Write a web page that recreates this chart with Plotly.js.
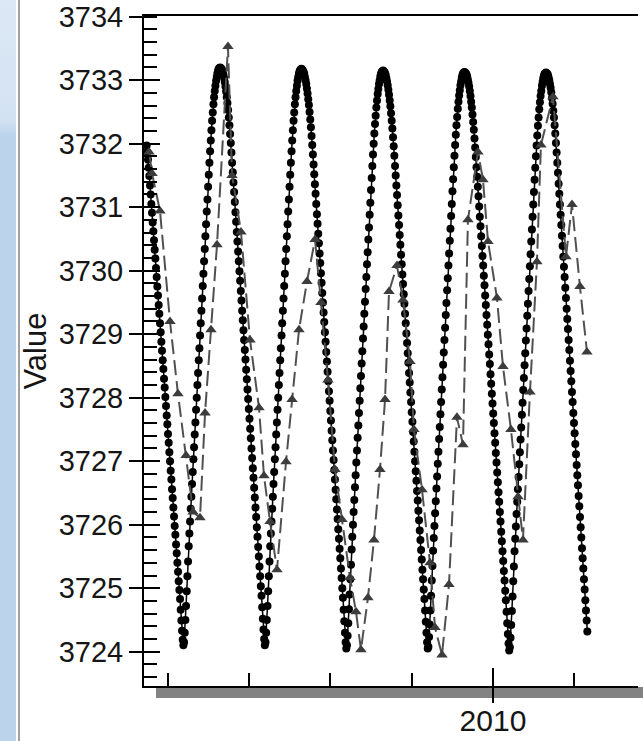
<!DOCTYPE html>
<html>
<head>
<meta charset="utf-8">
<script src="https://cdn.plot.ly/plotly-3.0.1.min.js"></script>
<style>
  html, body { margin: 0; padding: 0; background: #ffffff; }
  #chart { position: absolute; left: 0; top: 0; width: 643px; height: 741px; }
  #frameBlue { position: absolute; left: 0; top: 0; width: 16px; height: 741px;
    background: linear-gradient(to bottom, #dce8f5 0px, #d3e2f2 120px, #bcd3ec 135px, #bcd3ec 741px); z-index: 5; }
  #frameLine { position: absolute; left: 18px; top: 0; width: 2px; height: 741px; background: #a0a0a0; z-index: 5; }
</style>
</head>
<body>
<div id="chart"></div>
<div id="frameBlue"></div>
<div id="frameLine"></div>
<script>
// ---- dense level series (every 3 days), split by half-cycle ----
const seriesStartYear = 2005.7397;   // 2005-09-28
const seriesStepYears = 0.0082136;   // 3 days

const fall2005 = [3731.97,3731.87,3731.75,3731.62,3731.49,3731.34,3731.20,3731.05,3730.91,3730.76,3730.62,3730.48,3730.33,3730.19,3730.04,3729.90,3729.75,3729.61,3729.46,3729.32,3729.17,3729.03,3728.88,3728.74,3728.59,3728.45,3728.30,3728.16,3728.01,3727.87,3727.72,3727.58,3727.43,3727.29,3727.14,3727.00,3726.85,3726.71,3726.56,3726.42,3726.27,3726.13,3725.98,3725.84,3725.69,3725.55,3725.40,3725.26,3725.11,3724.97,3724.83,3724.66,3724.49,3724.33,3724.19,3724.10];
const rise2006 = [3724.15,3724.30,3724.50,3724.72,3724.95,3725.19,3725.42,3725.66,3725.86,3726.05,3726.25,3726.44,3726.64,3726.83,3727.03,3727.22,3727.42,3727.61,3727.81,3728.00,3728.20,3728.39,3728.59,3728.78,3728.98,3729.17,3729.37,3729.56,3729.76,3729.95,3730.15,3730.34,3730.54,3730.73,3730.93,3731.12,3731.32,3731.51,3731.70,3731.88,3732.05,3732.21,3732.36,3732.49,3732.62,3732.73,3732.83,3732.91,3732.99,3733.05,3733.11,3733.15,3733.18,3733.19,3733.20];
const fall2006 = [3733.19,3733.18,3733.16,3733.13,3733.08,3733.03,3732.97,3732.90,3732.82,3732.73,3732.64,3732.53,3732.41,3732.29,3732.15,3732.01,3731.86,3731.70,3731.55,3731.39,3731.24,3731.08,3730.92,3730.77,3730.61,3730.46,3730.30,3730.15,3729.99,3729.84,3729.68,3729.53,3729.37,3729.22,3729.06,3728.91,3728.75,3728.60,3728.44,3728.29,3728.13,3727.98,3727.82,3727.67,3727.51,3727.36,3727.20,3727.05,3726.89,3726.74,3726.58,3726.43,3726.27,3726.12,3725.96,3725.81,3725.65,3725.50,3725.34,3725.19,3725.03,3724.88,3724.70,3724.52,3724.35,3724.20,3724.10];
const rise2007 = [3724.15,3724.30,3724.50,3724.72,3724.95,3725.19,3725.42,3725.66,3725.86,3726.05,3726.25,3726.44,3726.64,3726.83,3727.03,3727.22,3727.42,3727.61,3727.81,3728.00,3728.20,3728.39,3728.59,3728.78,3728.98,3729.17,3729.37,3729.56,3729.76,3729.95,3730.15,3730.34,3730.54,3730.73,3730.93,3731.12,3731.32,3731.51,3731.70,3731.88,3732.05,3732.21,3732.36,3732.49,3732.62,3732.73,3732.83,3732.91,3732.99,3733.05,3733.10,3733.14,3733.16,3733.17,3733.18];
const fall2007 = [3733.16,3733.15,3733.13,3733.10,3733.05,3733.00,3732.94,3732.87,3732.79,3732.70,3732.61,3732.50,3732.38,3732.26,3732.12,3731.98,3731.83,3731.67,3731.52,3731.36,3731.21,3731.05,3730.89,3730.74,3730.58,3730.43,3730.27,3730.12,3729.96,3729.81,3729.65,3729.50,3729.34,3729.19,3729.03,3728.88,3728.72,3728.57,3728.41,3728.26,3728.10,3727.95,3727.79,3727.64,3727.48,3727.33,3727.17,3727.02,3726.86,3726.71,3726.55,3726.40,3726.24,3726.09,3725.93,3725.78,3725.62,3725.47,3725.31,3725.16,3725.00,3724.85,3724.66,3724.48,3724.30,3724.15,3724.05];
const rise2008 = [3724.10,3724.25,3724.45,3724.67,3724.90,3725.14,3725.37,3725.61,3725.81,3726.00,3726.20,3726.39,3726.59,3726.78,3726.98,3727.17,3727.37,3727.56,3727.76,3727.95,3728.15,3728.34,3728.54,3728.73,3728.93,3729.12,3729.32,3729.51,3729.71,3729.90,3730.10,3730.29,3730.49,3730.68,3730.88,3731.07,3731.27,3731.46,3731.65,3731.83,3732.00,3732.16,3732.31,3732.44,3732.57,3732.68,3732.78,3732.86,3732.94,3733.00,3733.06,3733.10,3733.13,3733.14,3733.15];
const fall2008 = [3733.14,3733.13,3733.11,3733.08,3733.03,3732.98,3732.92,3732.85,3732.77,3732.68,3732.59,3732.48,3732.36,3732.24,3732.10,3731.96,3731.81,3731.65,3731.50,3731.34,3731.19,3731.03,3730.87,3730.72,3730.56,3730.41,3730.25,3730.10,3729.94,3729.79,3729.63,3729.48,3729.32,3729.17,3729.01,3728.86,3728.70,3728.55,3728.39,3728.24,3728.08,3727.93,3727.77,3727.62,3727.46,3727.31,3727.15,3727.00,3726.84,3726.69,3726.53,3726.38,3726.22,3726.07,3725.91,3725.76,3725.60,3725.45,3725.29,3725.14,3724.98,3724.83,3724.65,3724.47,3724.30,3724.15,3724.05];
const rise2009 = [3724.08,3724.23,3724.43,3724.65,3724.88,3725.12,3725.35,3725.59,3725.79,3725.98,3726.18,3726.37,3726.57,3726.76,3726.96,3727.15,3727.35,3727.54,3727.74,3727.93,3728.13,3728.32,3728.52,3728.71,3728.91,3729.10,3729.30,3729.49,3729.69,3729.88,3730.08,3730.27,3730.47,3730.66,3730.86,3731.05,3731.25,3731.44,3731.63,3731.81,3731.98,3732.14,3732.29,3732.42,3732.55,3732.66,3732.76,3732.84,3732.92,3732.98,3733.04,3733.08,3733.11,3733.12,3733.13];
const fall2009 = [3733.12,3733.11,3733.09,3733.06,3733.01,3732.96,3732.90,3732.83,3732.75,3732.66,3732.57,3732.46,3732.34,3732.22,3732.08,3731.94,3731.79,3731.63,3731.48,3731.32,3731.17,3731.01,3730.85,3730.70,3730.54,3730.39,3730.23,3730.08,3729.92,3729.77,3729.61,3729.46,3729.30,3729.15,3728.99,3728.84,3728.68,3728.53,3728.37,3728.22,3728.06,3727.91,3727.75,3727.60,3727.44,3727.29,3727.13,3726.98,3726.82,3726.67,3726.51,3726.36,3726.20,3726.05,3725.89,3725.74,3725.58,3725.43,3725.27,3725.12,3724.96,3724.81,3724.63,3724.45,3724.28,3724.13,3724.02];
const rise2010 = [3724.07,3724.22,3724.42,3724.64,3724.87,3725.11,3725.34,3725.58,3725.78,3725.97,3726.17,3726.36,3726.56,3726.75,3726.95,3727.14,3727.34,3727.53,3727.73,3727.92,3728.12,3728.31,3728.51,3728.70,3728.90,3729.09,3729.29,3729.48,3729.68,3729.87,3730.07,3730.26,3730.46,3730.65,3730.85,3731.04,3731.24,3731.43,3731.62,3731.80,3731.97,3732.13,3732.28,3732.41,3732.54,3732.65,3732.75,3732.83,3732.91,3732.97,3733.03,3733.07,3733.10,3733.11,3733.12];
const fall2010 = [3733.11,3733.10,3733.08,3733.04,3733.00,3732.94,3732.88,3732.81,3732.72,3732.63,3732.52,3732.41,3732.29,3732.16,3732.01,3731.86,3731.70,3731.54,3731.37,3731.21,3731.04,3730.88,3730.72,3730.55,3730.39,3730.22,3730.06,3729.90,3729.73,3729.57,3729.40,3729.24,3729.08,3728.91,3728.75,3728.58,3728.42,3728.26,3728.09,3727.93,3727.76,3727.60,3727.44,3727.27,3727.11,3726.94,3726.78,3726.62,3726.45,3726.29,3726.12,3725.96,3725.80,3725.63,3725.47,3725.31,3725.14,3724.98,3724.81,3724.65,3724.49,3724.32];

const levelValues = [].concat(fall2005, rise2006, fall2006, rise2007, fall2007, rise2008,
                              fall2008, rise2009, fall2009, rise2010, fall2010);

// ---- sparse observations (triangles) ----
const obsYears = [2005.769,2005.806,2005.904,2006.027,2006.125,2006.224,2006.310,2006.396,2006.458,2006.531,2006.605,2006.740,2006.790,2006.900,2007.011,2007.122,2007.183,2007.257,2007.343,2007.454,2007.528,2007.614,2007.712,2007.811,2007.884,2007.970,2008.057,2008.143,2008.241,2008.315,2008.376,2008.462,2008.536,2008.610,2008.672,2008.721,2008.819,2008.893,2008.979,2009.028,2009.127,2009.225,2009.287,2009.373,2009.459,2009.557,2009.631,2009.692,2009.815,2009.877,2009.939,2010.049,2010.123,2010.221,2010.308,2010.369,2010.455,2010.541,2010.590,2010.738,2010.898,2010.972,2011.070,2011.156];
const obsValues = [3731.87,3731.53,3730.94,3729.20,3728.06,3727.09,3726.20,3726.11,3727.76,3729.07,3730.41,3733.53,3731.50,3730.61,3728.91,3727.84,3726.77,3726.05,3725.29,3726.99,3727.97,3729.07,3729.83,3730.49,3729.50,3728.28,3726.87,3726.08,3725.17,3724.63,3724.03,3724.85,3725.76,3726.87,3727.97,3729.67,3730.08,3729.54,3728.57,3727.50,3726.55,3725.40,3724.38,3723.95,3725.06,3727.69,3727.26,3730.80,3731.87,3731.43,3730.46,3729.57,3728.49,3727.50,3726.44,3725.76,3728.09,3730.14,3731.98,3732.74,3730.22,3731.04,3729.75,3728.72];

// ---- axis settings ----
const xRange = [2005.707, 2011.784];
const yRange = [3723.46, 3734.01];
const yTickLabels = ['3724','3725','3726','3727','3728','3729','3730','3731','3732','3733','3734'];
const yTickValues = yTickLabels.map(Number);

const traces = [
  {
    type: 'scatter', mode: 'lines+markers',
    x0: seriesStartYear, dx: seriesStepYears, y: levelValues,
    xaxis: 'x', yaxis: 'y',
    line: { color: '#000000', width: 1.5 },
    marker: { symbol: 'circle', size: 8, color: '#000000' },
    hoverinfo: 'skip'
  },
  {
    type: 'scatter', mode: 'lines+markers',
    x: obsYears, y: obsValues,
    xaxis: 'x2', yaxis: 'y2',
    line: { color: '#505050', width: 2, dash: '15px,6px' },
    marker: { symbol: 'triangle-up', size: 10, color: '#3c3c3c' },
    hoverinfo: 'skip'
  }
];

const font = 'Liberation Sans, Arial, sans-serif';
const layout = {
  width: 643, height: 741,
  margin: { l: 144, r: 5, t: 16, b: 55, pad: 0 },
  paper_bgcolor: '#ffffff', plot_bgcolor: '#ffffff',
  showlegend: false,
  font: { family: font, color: '#151515' },
  xaxis: {
    range: xRange, showgrid: false, zeroline: false,
    showline: true, linecolor: '#000000', linewidth: 2, mirror: true,
    ticks: 'inside', ticklen: 18, tickwidth: 2, tickcolor: '#000000',
    tick0: 2000, dtick: 10, tickformat: 'd', ticklabelstandoff: 7,
    tickfont: { family: font, size: 30, color: '#151515' },
    minor: { tick0: 2000, dtick: 1, ticks: 'inside', ticklen: 13, tickwidth: 2, tickcolor: '#000000' }
  },
  yaxis: {
    range: yRange, showgrid: false, zeroline: false,
    showline: true, linecolor: '#000000', linewidth: 2,
    ticks: 'outside', ticklen: 13, tickwidth: 2, tickcolor: '#000000',
    tickmode: 'array', tickvals: yTickValues, ticktext: yTickLabels,
    tickfont: { family: font, size: 29, color: '#151515' },
    minor: { tick0: 3724, dtick: 0.2, ticks: 'inside', ticklen: 13, tickwidth: 2, tickcolor: '#000000' },
    title: { text: 'Value', font: { family: font, size: 31, color: '#151515' }, standoff: 3 }
  },
  xaxis2: {
    overlaying: 'x', anchor: 'y2', side: 'bottom', range: xRange,
    showgrid: false, zeroline: false, showline: false,
    ticks: 'outside', ticklen: 16, tickwidth: 2, tickcolor: '#000000',
    tick0: 2000, dtick: 10, showticklabels: false
  },
  yaxis2: {
    overlaying: 'y', anchor: 'x2', side: 'left', range: yRange,
    showgrid: false, zeroline: false, showline: false,
    ticks: 'inside', ticklen: 16, tickwidth: 2, tickcolor: '#000000',
    tickmode: 'array', tickvals: yTickValues, showticklabels: false
  },
  shapes: [
    { type: 'rect', xref: 'paper', yref: 'paper', x0: 0.0243, x1: 1.011, y0: -0.0015, y1: -0.0179,
      fillcolor: '#828282', line: { width: 0 }, layer: 'below' }
  ]
};

Plotly.newPlot('chart', traces, layout, { displayModeBar: false, staticPlot: true });
</script>
</body>
</html>
